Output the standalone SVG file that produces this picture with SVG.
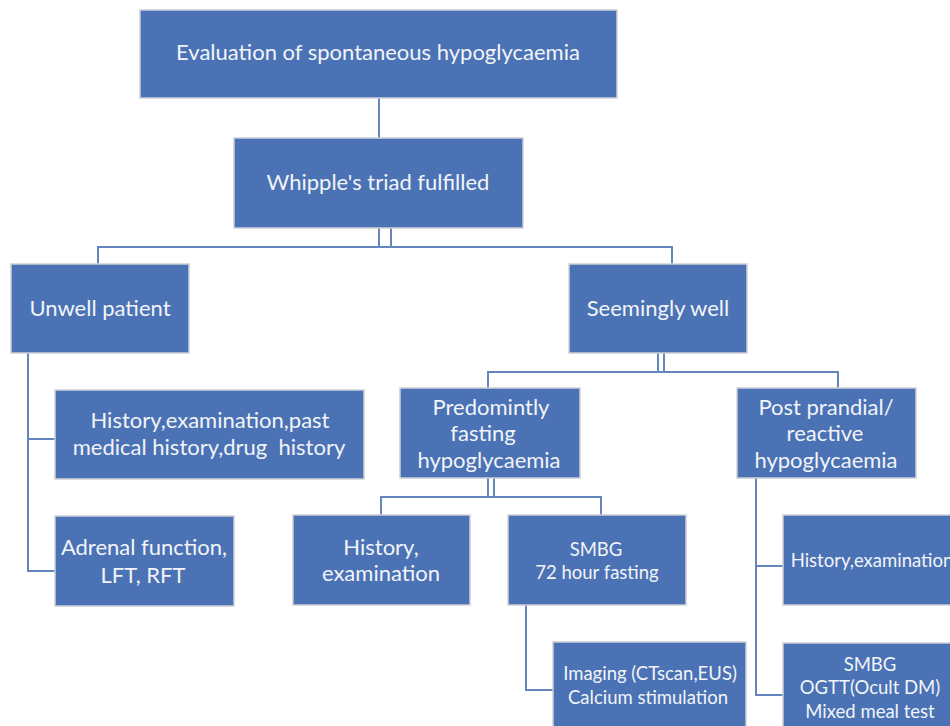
<svg xmlns="http://www.w3.org/2000/svg" width="950" height="726" viewBox="0 0 950 726">
<style>
.box{fill:#4a72b4;stroke:#cdd0d6;stroke-width:1.5}
.t{font-family:Lato,"Liberation Sans",sans-serif;fill:#f2f4f8;text-anchor:middle}
.l{font-size:22px}
.s{font-size:18.5px}
.c{fill:none;stroke:#6485be;stroke-width:2}
</style>
<rect width="950" height="726" fill="#ffffff"/>
<g id="connectors">
<path class="c" d="M379 98V138"/>
<path class="c" d="M379 228V247M391 228V247M98 264V247H672V264"/>
<path class="c" d="M28 353V571H55M28 439H55"/>
<path class="c" d="M658 353V372M664 353V372M488 388V372H838V388"/>
<path class="c" d="M488 478V497M494 478V497M381 515V497H601V515"/>
<path class="c" d="M526 605V690H553"/>
<path class="c" d="M756 478V695H783M756 566H783"/>
</g>
<g id="n1"><rect class="box" x="140" y="10" width="477" height="88"/><text class="t l" x="378" y="60">Evaluation of spontaneous hypoglycaemia</text></g>
<g id="n2"><rect class="box" x="234" y="138" width="289" height="90"/><text class="t l" x="378" y="190">Whipple's triad fulfilled</text></g>
<g id="n3"><rect class="box" x="11" y="264" width="178" height="89"/><text class="t l" x="100" y="316">Unwell patient</text></g>
<g id="n4"><rect class="box" x="569" y="264" width="178" height="89"/><text class="t l" x="658" y="316">Seemingly well</text></g>
<g id="n5"><rect class="box" x="55" y="390" width="309" height="89"/><text class="t l" x="210" y="428">History,examination,past</text><text class="t l" x="209" y="455" xml:space="preserve">medical history,drug  history</text></g>
<g id="n6"><rect class="box" x="55" y="516" width="179" height="90"/><text class="t l" x="144" y="555">Adrenal function,</text><text class="t l" x="143" y="583">LFT, RFT</text></g>
<g id="n7"><rect class="box" x="400" y="388" width="180" height="90"/><text class="t l" x="491" y="415">Predomintly</text><text class="t l" x="483" y="441">fasting</text><text class="t l" x="489" y="468">hypoglycaemia</text></g>
<g id="n8"><rect class="box" x="737" y="388" width="179" height="90"/><text class="t l" x="826" y="415">Post prandial/</text><text class="t l" x="825" y="441">reactive</text><text class="t l" x="826" y="468">hypoglycaemia</text></g>
<g id="n9"><rect class="box" x="293" y="515" width="177" height="90"/><text class="t l" x="381" y="555">History,</text><text class="t l" x="381" y="581">examination</text></g>
<g id="n10"><rect class="box" x="508" y="515" width="178" height="90"/><text class="t s" x="596" y="556">SMBG</text><text class="t s" x="597" y="579">72 hour fasting</text></g>
<g id="n11"><rect class="box" x="553" y="642" width="193" height="90"/><text class="t s" x="650" y="680">Imaging (CTscan,EUS)</text><text class="t s" x="648" y="704">Calcium stimulation</text></g>
<g id="n12"><rect class="box" x="783" y="515" width="178" height="90"/><text class="t s" x="872" y="567">History,examination</text></g>
<g id="n13"><rect class="box" x="783" y="643" width="178" height="90"/><text class="t s" x="870" y="671">SMBG</text><text class="t s" x="870" y="694">OGTT(Ocult DM)</text><text class="t s" x="870" y="718">Mixed meal test</text></g>
</svg>
